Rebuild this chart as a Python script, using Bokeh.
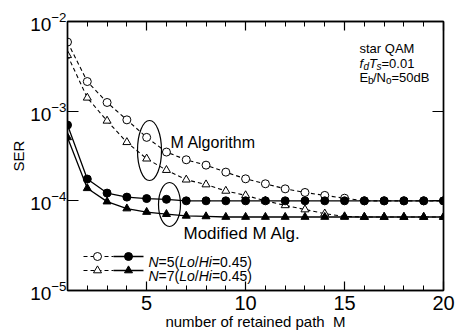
from math import pi
import math
from bokeh.plotting import figure
from bokeh.models import LinearAxis, LogAxis, FixedTicker, Label, Range1d, LogTickFormatter
from bokeh.embed import file_html
from bokeh.resources import INLINE

# ---------------- data ----------------
M = list(range(1, 21))
ser_malg_n5 = [5.9e-3, 2.14e-3, 1.25e-3, 8.0e-4, 5.1e-4, 3.5e-4, 2.87e-4, 2.5e-4, 2.09e-4, 1.76e-4,
               1.55e-4, 1.36e-4, 1.24e-4, 1.15e-4, 1.07e-4, 1.0e-4, 1.0e-4, 1.0e-4, 1.0e-4, 1.0e-4]
ser_malg_n7 = [4.2e-3, 1.41e-3, 7.8e-4, 4.5e-4, 2.95e-4, 2.2e-4, 1.72e-4, 1.52e-4, 1.29e-4, 1.15e-4,
               1.0e-4, 8.9e-5, 8.0e-5, 7.2e-5, 6.7e-5, 6.6e-5, 6.6e-5, 6.6e-5, 6.6e-5, 6.6e-5]
ser_mod_n5 = [7.0e-4, 1.75e-4, 1.22e-4, 1.1e-4, 1.06e-4, 1.04e-4, 1.0e-4, 1.0e-4, 1.0e-4, 1.0e-4,
              1.0e-4, 1.0e-4, 1.0e-4, 1.0e-4, 1.0e-4, 1.0e-4, 1.0e-4, 1.0e-4, 1.0e-4, 1.0e-4]
ser_mod_n7 = [5.1e-4, 1.38e-4, 9.8e-5, 8.2e-5, 7.5e-5, 7.1e-5, 6.8e-5, 6.7e-5, 6.6e-5, 6.6e-5,
              6.6e-5, 6.6e-5, 6.6e-5, 6.6e-5, 6.6e-5, 6.6e-5, 6.6e-5, 6.6e-5, 6.6e-5, 6.6e-5]
x_ticks = [5, 10, 15, 20]
y_ticks = [1e-5, 1e-4, 1e-3, 1e-2]
x_min, x_max = 1, 20
y_min, y_max = 1e-5, 1e-2
x_title = "number of retained path\u00a0\u00a0M"
y_title = "SER"

FONT = "Liberation Sans"
W, H = 458, 334
# frame position in canvas pixels
FL, FR, FT, FB = 67, 443, 21, 290

p = figure(width=W, height=H, x_range=Range1d(x_min, x_max), y_range=Range1d(y_min, y_max),
           y_axis_type="log", output_backend="svg", toolbar_location=None,
           min_border_left=FL, min_border_right=W - FR, min_border_top=FT, min_border_bottom=H - FB)
p.background_fill_color = "white"
p.border_fill_color = "white"
p.outline_line_color = "black"
p.outline_line_width = 1.3
p.xgrid.visible = False
p.ygrid.visible = False

def xd(px):
    return x_min + (px - FL) * (x_max - x_min) / (FR - FL)
def yd(py):
    lo, hi = math.log10(y_min), math.log10(y_max)
    return 10 ** (hi - (py - FT) * (hi - lo) / (FB - FT))

def style_x(ax, labels=True):
    ax.ticker = FixedTicker(ticks=x_ticks, minor_ticks=M)
    ax.major_tick_in = 9
    ax.major_tick_out = 0
    ax.minor_tick_in = 5
    ax.minor_tick_out = 0
    ax.axis_line_width = 1.5
    ax.major_tick_line_width = 1.2
    ax.minor_tick_line_width = 1.0
    if labels:
        ax.major_label_text_font = FONT
        ax.major_label_text_font_size = "20px"
        ax.major_label_text_color = "black"
        ax.major_label_standoff = 5
    else:
        ax.major_label_overrides = {t: " " for t in x_ticks}
        ax.major_label_text_font_size = "1px"
        ax.major_label_text_alpha = 0
        ax.major_label_standoff = 0

def style_y(ax, labels=True):
    ax.ticker = FixedTicker(ticks=y_ticks)
    ax.major_tick_in = 11
    ax.major_tick_out = 0
    ax.minor_tick_line_color = None
    ax.axis_line_width = 1.5
    ax.major_tick_line_width = 1.2
    if labels:
        ax.formatter = LogTickFormatter()
        ax.major_label_text_font = FONT
        ax.major_label_text_font_size = "19px"
        ax.major_label_text_color = "black"
        ax.major_label_standoff = 1
    else:
        ax.major_label_overrides = {t: " " for t in y_ticks}
        ax.major_label_text_font_size = "1px"
        ax.major_label_text_alpha = 0
        ax.major_label_standoff = 0

style_x(p.xaxis[0])
style_y(p.yaxis[0])
for ax, txt, st, fs in [(p.xaxis[0], x_title, 0, "15px"), (p.yaxis[0], y_title, 0, "15px")]:
    ax.axis_label = txt
    ax.axis_label_text_font = FONT
    ax.axis_label_text_font_size = fs
    ax.axis_label_text_font_style = "normal"
    ax.axis_label_text_color = "black"
    ax.axis_label_standoff = st
top = LinearAxis()
style_x(top, labels=False)
p.add_layout(top, "above")
right = LogAxis()
style_y(right, labels=False)
p.add_layout(right, "right")

# ---------------- curves ----------------
dash = "4 3"
p.line(M, ser_malg_n5, line_dash=dash, line_color="black", line_width=1.1)
p.line(M, ser_malg_n7, line_dash=dash, line_color="black", line_width=1.1)
p.scatter(M, ser_malg_n5, marker="circle", size=8, fill_color="white", line_color="black", line_width=1)
p.scatter(M, ser_malg_n7, marker="triangle", size=8, fill_color="white", line_color="black", line_width=1)
p.line(M, ser_mod_n5, line_color="black", line_width=1.3)
p.line(M, ser_mod_n7, line_color="black", line_width=1.3)
p.scatter(M, ser_mod_n5, marker="circle", size=8, fill_color="black", line_color="black")
p.scatter(M, ser_mod_n7, marker="triangle", size=8, fill_color="black", line_color="black")

# ---------------- ellipses ----------------
p.ellipse(x=[xd(149), xd(169)], y=[yd(150), yd(204)], width=[24, 22], height=[60, 44],
          width_units="screen", height_units="screen", fill_color=None, line_color="black", line_width=1.2)

def lab(px, py, text, size, italic=False, align="left", baseline="alphabetic", angle=0):
    p.add_layout(Label(x=xd(px), y=yd(py), text=text, text_font=FONT, text_font_size=f"{size}px",
                       text_font_style="italic" if italic else "normal", text_color="black",
                       text_align=align, text_baseline=baseline, angle=angle))

lab(170, 142, "M Algorithm", 16)
lab(183, 233, "Modified M Alg.", 17)

# info box
lab(359, 48, "star QAM", 13)
lab(359, 63, "f", 13, italic=True)
lab(363, 66, "d", 10, italic=True)
lab(368.5, 63, "T", 13, italic=True)
lab(376, 66, "s", 10, italic=True)
lab(381, 63, "=0.01", 13)
lab(359, 77, "E", 13)
lab(367.5, 80, "b", 10)
lab(372.5, 77, "/N", 13)
lab(385.5, 80, "o", 10)
lab(391, 77, "=50dB", 13)

# legend
rows = [(256, "circle", "=5("), (270, "triangle", "=7(")]
for ry, mk, nstr in rows:
    p.line([xd(83), xd(113)], [yd(ry), yd(ry)], line_dash=dash, line_color="black", line_width=1.1)
    p.scatter([xd(97)], [yd(ry)], marker=mk, size=8, fill_color="white", line_color="black")
    p.line([xd(113), xd(143)], [yd(ry), yd(ry)], line_color="black", line_width=1.3)
    p.scatter([xd(128)], [yd(ry)], marker=mk, size=8, fill_color="black", line_color="black")
    fs = 14
    pieces = [("N", True, 0.722), (nstr, False, 0.584 + 0.556 + 0.333), ("Lo", True, 1.112),
              ("/", False, 0.278), ("Hi", True, 0.944), ("=0.45)", False, 0.584 + 0.556 * 3 + 0.278 + 0.333)]
    cx = 148
    for txt, it, w in pieces:
        lab(cx, ry + 5, txt, fs, italic=it)
        cx += w * fs

open("out.html", "w").write(file_html(p, INLINE))
